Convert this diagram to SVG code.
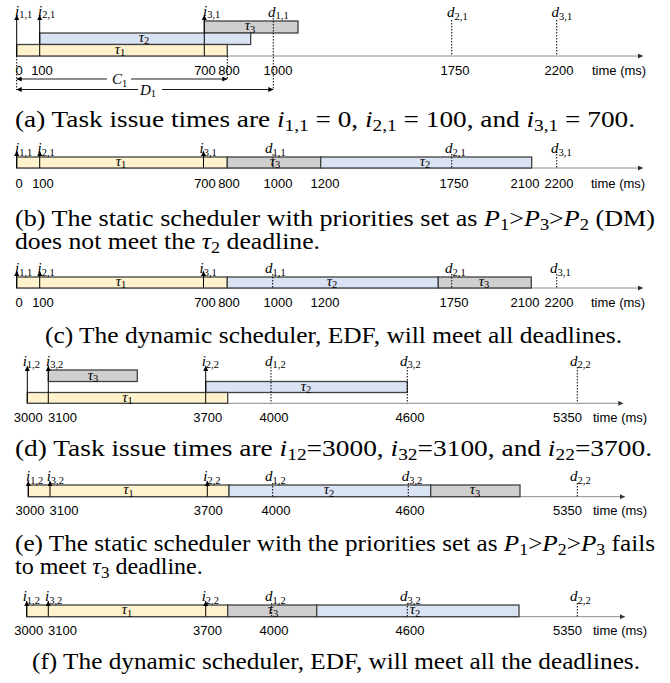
<svg xmlns="http://www.w3.org/2000/svg" width="670" height="683" viewBox="0 0 670 683">
<defs>
<marker id="ah" viewBox="0 0 8 8" refX="8" refY="4" markerWidth="5" markerHeight="5" markerUnits="userSpaceOnUse" orient="auto-start-reverse"><path d="M0,0 L8,4 L0,8 z" fill="#000"/></marker>
<marker id="ax" viewBox="0 0 8 8" refX="8" refY="4" markerWidth="5" markerHeight="5" markerUnits="userSpaceOnUse" orient="auto"><path d="M0,0 L8,4 L0,8 z" fill="#333"/></marker>
</defs>
<style>
.axis{stroke:#8c8c8c;stroke-width:1;marker-end:url(#ax);fill:none}
.bar{stroke:#404040;stroke-width:1.3}
.y{fill:#FFF2CC}.b{fill:#DAE3F3}.g{fill:#D0CECE}
.arr{stroke:#000;stroke-width:1;fill:none;marker-end:url(#ah)}
.dim{stroke:#000;stroke-width:0.9;fill:none}
.ms{marker-start:url(#ah)}.me{marker-end:url(#ah)}
.dl{stroke:#000;stroke-width:1;stroke-dasharray:1.5 1.5;fill:none}
.tk{font-family:"Liberation Sans",Arial,sans-serif;font-size:13px;fill:#000}
.tm{text-anchor:middle}
.lb{font-family:"Liberation Serif","Times New Roman",serif;font-style:italic;font-size:15px;fill:#000}
.sb{font-style:normal;font-size:10.5px}
.tl{font-family:"Liberation Serif","Times New Roman",serif;font-style:italic;font-size:15px;fill:#000;text-anchor:middle}
.cap{font-family:"Liberation Serif","Times New Roman",serif;font-size:24px;fill:#000}
.it{font-style:italic}
.cs{font-size:17px}
</style>

<!-- Panel (a) -->
<g id="panel-a">
<line class="axis" x1="16.7" y1="56" x2="643" y2="56"/>
<g id="a-tau3"><rect class="bar g" x="204.3" y="21" width="93.7" height="12"/><text class="tl" x="250" y="30">τ<tspan class="sb" dy="2.5">3</tspan></text></g>
<g id="a-tau2"><rect class="bar b" x="39.7" y="33" width="211" height="11.5"/><text class="tl" x="144" y="41.5">τ<tspan class="sb" dy="2.5">2</tspan></text></g>
<g id="a-tau1"><rect class="bar y" x="16.7" y="44.5" width="210.6" height="11.5"/><text class="tl" x="120" y="53.5">τ<tspan class="sb" dy="2.5">1</tspan></text></g>
<g id="a-connectors">
<line class="arr" x1="16.7" y1="56" x2="16.7" y2="15"/>
<line class="arr" x1="39.7" y1="56" x2="39.7" y2="15"/>
<line class="arr" x1="204.3" y1="56" x2="204.3" y2="15"/>
<line class="dl" x1="273.3" y1="18" x2="273.3" y2="90"/>
<line class="dl" x1="451.7" y1="20" x2="451.7" y2="56"/>
<line class="dl" x1="556.7" y1="20" x2="556.7" y2="56"/>
<line class="dl" x1="16.7" y1="56" x2="16.7" y2="90"/>
<line class="dl" x1="227.3" y1="56" x2="227.3" y2="80"/>
<line class="dim ms" x1="16.7" y1="79" x2="107" y2="79"/>
<line class="dim me" x1="131" y1="79" x2="227.3" y2="79"/>
<line class="dim ms" x1="16.7" y1="89.5" x2="138" y2="89.5"/>
<line class="dim me" x1="162" y1="89.5" x2="273.3" y2="89.5"/>
</g>
<text class="lb" x="15" y="15.5">i<tspan class="sb" dy="2.5">1,1</tspan></text>
<text class="lb" x="38" y="15.5">i<tspan class="sb" dy="2.5">2,1</tspan></text>
<text class="lb" x="203" y="15.5">i<tspan class="sb" dy="2.5">3,1</tspan></text>
<text class="lb" x="268" y="16.5">d<tspan class="sb" dy="2.5">1,1</tspan></text>
<text class="lb" x="447" y="17">d<tspan class="sb" dy="2.5">2,1</tspan></text>
<text class="lb" x="551.5" y="17">d<tspan class="sb" dy="2.5">3,1</tspan></text>
<text class="lb" x="112" y="84" font-size="16">C<tspan class="sb" dy="2.5">1</tspan></text>
<text class="lb" x="140" y="94.5" font-size="16">D<tspan class="sb" dy="2.5">1</tspan></text>
<g class="tk">
<text class="tm" x="19" y="75">0</text><text class="tm" x="42" y="75">100</text>
<text class="tm" x="205" y="75">700</text><text class="tm" x="229" y="75">800</text>
<text class="tm" x="278" y="75">1000</text><text class="tm" x="455" y="75">1750</text>
<text class="tm" x="559" y="75">2200</text><text x="592" y="75">time (ms)</text>
</g>
</g>
<text id="cap-a" class="cap" x="15" y="127" textLength="620" lengthAdjust="spacingAndGlyphs">(a) Task issue times are <tspan class="it">i</tspan><tspan class="cs" dy="4">1,1</tspan><tspan dy="-4"> = 0, </tspan><tspan class="it">i</tspan><tspan class="cs" dy="4">2,1</tspan><tspan dy="-4"> = 100, and </tspan><tspan class="it">i</tspan><tspan class="cs" dy="4">3,1</tspan><tspan dy="-4"> = 700.</tspan></text>

<!-- Panel (b) -->
<g id="panel-b">
<line class="axis" x1="16.7" y1="168" x2="643" y2="168"/>
<g id="b-tau1"><rect class="bar y" x="16.7" y="157" width="210.6" height="11"/><text class="tl" x="121" y="165.5">τ<tspan class="sb" dy="2.5">1</tspan></text></g>
<g id="b-tau3"><rect class="bar g" x="227.3" y="157" width="93.4" height="11"/><text class="tl" x="275" y="165.5">τ<tspan class="sb" dy="2.5">3</tspan></text></g>
<g id="b-tau2"><rect class="bar b" x="320.7" y="157" width="211" height="11"/><text class="tl" x="425" y="165.5">τ<tspan class="sb" dy="2.5">2</tspan></text></g>
<g id="b-connectors">
<line class="arr" x1="16.7" y1="168" x2="16.7" y2="151"/>
<line class="arr" x1="39.7" y1="168" x2="39.7" y2="151"/>
<line class="arr" x1="203.5" y1="168" x2="203.5" y2="151"/>
<line class="dl" x1="273" y1="154" x2="273" y2="168"/>
<line class="dl" x1="451.7" y1="154" x2="451.7" y2="168"/>
<line class="dl" x1="556.7" y1="154" x2="556.7" y2="168"/>
</g>
<text class="lb" x="15" y="153">i<tspan class="sb" dy="2.5">1,1</tspan></text>
<text class="lb" x="37.5" y="153">i<tspan class="sb" dy="2.5">2,1</tspan></text>
<text class="lb" x="199.5" y="153">i<tspan class="sb" dy="2.5">3,1</tspan></text>
<text class="lb" x="265" y="153">d<tspan class="sb" dy="2.5">1,1</tspan></text>
<text class="lb" x="445" y="153">d<tspan class="sb" dy="2.5">2,1</tspan></text>
<text class="lb" x="551" y="153">d<tspan class="sb" dy="2.5">3,1</tspan></text>
<g class="tk">
<text class="tm" x="19" y="187.5">0</text><text class="tm" x="43" y="187.5">100</text>
<text class="tm" x="205" y="187.5">700</text><text class="tm" x="229" y="187.5">800</text>
<text class="tm" x="278" y="187.5">1000</text><text class="tm" x="325" y="187.5">1200</text>
<text class="tm" x="454" y="187.5">1750</text><text class="tm" x="525" y="187.5">2100</text>
<text class="tm" x="559" y="187.5">2200</text><text x="591" y="187.5">time (ms)</text>
</g>
</g>
<text id="cap-b1" class="cap" x="15" y="226" textLength="640" lengthAdjust="spacingAndGlyphs">(b) The static scheduler with priorities set as <tspan class="it">P</tspan><tspan class="cs" dy="4">1</tspan><tspan dy="-4">&gt;</tspan><tspan class="it">P</tspan><tspan class="cs" dy="4">3</tspan><tspan dy="-4">&gt;</tspan><tspan class="it">P</tspan><tspan class="cs" dy="4">2</tspan><tspan dy="-4"> (DM)</tspan></text>
<text id="cap-b2" class="cap" x="15" y="248.5" textLength="305" lengthAdjust="spacingAndGlyphs">does not meet the <tspan class="it">τ</tspan><tspan class="cs" dy="4">2</tspan><tspan dy="-4"> deadline.</tspan></text>

<!-- Panel (c) -->
<g id="panel-c">
<line class="axis" x1="16.7" y1="288" x2="643" y2="288"/>
<g id="c-tau1"><rect class="bar y" x="16.7" y="277" width="210.6" height="11"/><text class="tl" x="121" y="285.5">τ<tspan class="sb" dy="2.5">1</tspan></text></g>
<g id="c-tau2"><rect class="bar b" x="227.3" y="277" width="211" height="11"/><text class="tl" x="332" y="285.5">τ<tspan class="sb" dy="2.5">2</tspan></text></g>
<g id="c-tau3"><rect class="bar g" x="438.3" y="277" width="93" height="11"/><text class="tl" x="484" y="285.5">τ<tspan class="sb" dy="2.5">3</tspan></text></g>
<g id="c-connectors">
<line class="arr" x1="16.7" y1="288" x2="16.7" y2="271"/>
<line class="arr" x1="39.7" y1="288" x2="39.7" y2="271"/>
<line class="arr" x1="203.5" y1="288" x2="203.5" y2="271"/>
<line class="dl" x1="272.7" y1="274" x2="272.7" y2="288"/>
<line class="dl" x1="451.7" y1="274" x2="451.7" y2="288"/>
<line class="dl" x1="556.7" y1="274" x2="556.7" y2="288"/>
</g>
<text class="lb" x="15" y="273">i<tspan class="sb" dy="2.5">1,1</tspan></text>
<text class="lb" x="37.5" y="273">i<tspan class="sb" dy="2.5">2,1</tspan></text>
<text class="lb" x="199.5" y="273">i<tspan class="sb" dy="2.5">3,1</tspan></text>
<text class="lb" x="265" y="273">d<tspan class="sb" dy="2.5">1,1</tspan></text>
<text class="lb" x="445" y="273">d<tspan class="sb" dy="2.5">2,1</tspan></text>
<text class="lb" x="550" y="273">d<tspan class="sb" dy="2.5">3,1</tspan></text>
<g class="tk">
<text class="tm" x="19" y="307">0</text><text class="tm" x="43" y="307">100</text>
<text class="tm" x="205" y="307">700</text><text class="tm" x="229" y="307">800</text>
<text class="tm" x="278" y="307">1000</text><text class="tm" x="325" y="307">1200</text>
<text class="tm" x="454" y="307">1750</text><text class="tm" x="525" y="307">2100</text>
<text class="tm" x="559" y="307">2200</text><text x="591" y="307">time (ms)</text>
</g>
</g>
<text id="cap-c" class="cap" x="45" y="343" textLength="577" lengthAdjust="spacingAndGlyphs">(c) The dynamic scheduler, EDF, will meet all deadlines.</text>

<!-- Panel (d) -->
<g id="panel-d">
<line class="axis" x1="27.3" y1="403.3" x2="623.3" y2="403.3"/>
<g id="d-tau3"><rect class="bar g" x="48.3" y="370" width="89" height="11.5"/><text class="tl" x="93" y="379.5">τ<tspan class="sb" dy="2.5">3</tspan></text></g>
<g id="d-tau2"><rect class="bar b" x="205.7" y="381.5" width="201.6" height="11"/><text class="tl" x="306" y="390.5">τ<tspan class="sb" dy="2.5">2</tspan></text></g>
<g id="d-tau1"><rect class="bar y" x="27.3" y="392.5" width="200.4" height="10.8"/><text class="tl" x="127.5" y="401.5">τ<tspan class="sb" dy="2.5">1</tspan></text></g>
<g id="d-connectors">
<line class="arr" x1="27.3" y1="403.3" x2="27.3" y2="366"/>
<line class="arr" x1="48.3" y1="403.3" x2="48.3" y2="366"/>
<line class="arr" x1="205.7" y1="403.3" x2="205.7" y2="366"/>
<line class="dl" x1="271" y1="367" x2="271" y2="403.3"/>
<line class="dl" x1="407.3" y1="367" x2="407.3" y2="403.3"/>
<line class="dl" x1="577.3" y1="367" x2="577.3" y2="403.3"/>
</g>
<text class="lb" x="22.7" y="365.5">i<tspan class="sb" dy="2.5">1,2</tspan></text>
<text class="lb" x="46" y="365.5">i<tspan class="sb" dy="2.5">3,2</tspan></text>
<text class="lb" x="201.7" y="365.5">i<tspan class="sb" dy="2.5">2,2</tspan></text>
<text class="lb" x="265" y="365.5">d<tspan class="sb" dy="2.5">1,2</tspan></text>
<text class="lb" x="400" y="365.5">d<tspan class="sb" dy="2.5">3,2</tspan></text>
<text class="lb" x="570" y="365.5">d<tspan class="sb" dy="2.5">2,2</tspan></text>
<g class="tk">
<text class="tm" x="28.3" y="421.5">3000</text><text class="tm" x="62.5" y="421.5">3100</text>
<text class="tm" x="207.7" y="421.5">3700</text><text class="tm" x="274" y="421.5">4000</text>
<text class="tm" x="410" y="421.5">4600</text><text class="tm" x="567.5" y="421.5">5350</text>
<text x="593" y="421.5">time (ms)</text>
</g>
</g>
<text id="cap-d" class="cap" x="15" y="455.5" textLength="637" lengthAdjust="spacingAndGlyphs">(d) Task issue times are <tspan class="it">i</tspan><tspan class="cs" dy="4">12</tspan><tspan dy="-4">=3000, </tspan><tspan class="it">i</tspan><tspan class="cs" dy="4">32</tspan><tspan dy="-4">=3100, and </tspan><tspan class="it">i</tspan><tspan class="cs" dy="4">22</tspan><tspan dy="-4">=3700.</tspan></text>

<!-- Panel (e) -->
<g id="panel-e">
<line class="axis" x1="28.3" y1="496.7" x2="625" y2="496.7"/>
<g id="e-tau1"><rect class="bar y" x="28.3" y="485" width="200.7" height="11.7"/><text class="tl" x="128.5" y="494">τ<tspan class="sb" dy="2.5">1</tspan></text></g>
<g id="e-tau2"><rect class="bar b" x="229" y="485" width="201.7" height="11.7"/><text class="tl" x="329" y="494">τ<tspan class="sb" dy="2.5">2</tspan></text></g>
<g id="e-tau3"><rect class="bar g" x="430.7" y="485" width="89.3" height="11.7"/><text class="tl" x="475" y="494">τ<tspan class="sb" dy="2.5">3</tspan></text></g>
<g id="e-connectors">
<line class="arr" x1="28.3" y1="496.7" x2="28.3" y2="481"/>
<line class="arr" x1="50" y1="496.7" x2="50" y2="481"/>
<line class="arr" x1="207.3" y1="496.7" x2="207.3" y2="481"/>
<line class="dl" x1="272.7" y1="483" x2="272.7" y2="496.7"/>
<line class="dl" x1="408.3" y1="483" x2="408.3" y2="496.7"/>
<line class="dl" x1="577.3" y1="483" x2="577.3" y2="496.7"/>
</g>
<text class="lb" x="26" y="481">i<tspan class="sb" dy="2.5">1,2</tspan></text>
<text class="lb" x="46.7" y="481">i<tspan class="sb" dy="2.5">3,2</tspan></text>
<text class="lb" x="203.3" y="481">i<tspan class="sb" dy="2.5">2,2</tspan></text>
<text class="lb" x="265" y="481">d<tspan class="sb" dy="2.5">1,2</tspan></text>
<text class="lb" x="401.7" y="481">d<tspan class="sb" dy="2.5">3,2</tspan></text>
<text class="lb" x="570" y="481">d<tspan class="sb" dy="2.5">2,2</tspan></text>
<g class="tk">
<text class="tm" x="30" y="515">3000</text><text class="tm" x="64" y="515">3100</text>
<text class="tm" x="208.3" y="515">3700</text><text class="tm" x="276" y="515">4000</text>
<text class="tm" x="410" y="515">4600</text><text class="tm" x="567.5" y="515">5350</text>
<text x="593" y="515">time (ms)</text>
</g>
</g>
<text id="cap-e1" class="cap" x="15" y="551" textLength="640" lengthAdjust="spacingAndGlyphs">(e) The static scheduler with the priorities set as <tspan class="it">P</tspan><tspan class="cs" dy="4">1</tspan><tspan dy="-4">&gt;</tspan><tspan class="it">P</tspan><tspan class="cs" dy="4">2</tspan><tspan dy="-4">&gt;</tspan><tspan class="it">P</tspan><tspan class="cs" dy="4">3</tspan><tspan dy="-4"> fails</tspan></text>
<text id="cap-e2" class="cap" x="15" y="573.5">to meet <tspan class="it">τ</tspan><tspan class="cs" dy="4">3</tspan><tspan dy="-4"> deadline.</tspan></text>

<!-- Panel (f) -->
<g id="panel-f">
<line class="axis" x1="26.7" y1="616.7" x2="625" y2="616.7"/>
<g id="f-tau1"><rect class="bar y" x="26.7" y="605" width="201" height="11.7"/><text class="tl" x="127" y="614">τ<tspan class="sb" dy="2.5">1</tspan></text></g>
<g id="f-tau3"><rect class="bar g" x="227.7" y="605" width="89" height="11.7"/><text class="tl" x="273" y="614">τ<tspan class="sb" dy="2.5">3</tspan></text></g>
<g id="f-tau2"><rect class="bar b" x="316.7" y="605" width="202.3" height="11.7"/><text class="tl" x="415" y="614">τ<tspan class="sb" dy="2.5">2</tspan></text></g>
<g id="f-connectors">
<line class="arr" x1="26.7" y1="616.7" x2="26.7" y2="601"/>
<line class="arr" x1="48.3" y1="616.7" x2="48.3" y2="601"/>
<line class="arr" x1="205.7" y1="616.7" x2="205.7" y2="601"/>
<line class="dl" x1="271.7" y1="603" x2="271.7" y2="616.7"/>
<line class="dl" x1="407.3" y1="603" x2="407.3" y2="616.7"/>
<line class="dl" x1="577.3" y1="603" x2="577.3" y2="616.7"/>
</g>
<text class="lb" x="22.7" y="601">i<tspan class="sb" dy="2.5">1,2</tspan></text>
<text class="lb" x="45" y="601">i<tspan class="sb" dy="2.5">3,2</tspan></text>
<text class="lb" x="201.7" y="601">i<tspan class="sb" dy="2.5">2,2</tspan></text>
<text class="lb" x="265" y="601">d<tspan class="sb" dy="2.5">1,2</tspan></text>
<text class="lb" x="400" y="601">d<tspan class="sb" dy="2.5">3,2</tspan></text>
<text class="lb" x="570" y="601">d<tspan class="sb" dy="2.5">2,2</tspan></text>
<g class="tk">
<text class="tm" x="28.8" y="635">3000</text><text class="tm" x="62.5" y="635">3100</text>
<text class="tm" x="207.5" y="635">3700</text><text class="tm" x="274" y="635">4000</text>
<text class="tm" x="410" y="635">4600</text><text class="tm" x="567.5" y="635">5350</text>
<text x="593" y="635">time (ms)</text>
</g>
</g>
<text id="cap-f" class="cap" x="32" y="669" textLength="608" lengthAdjust="spacingAndGlyphs">(f) The dynamic scheduler, EDF, will meet all the deadlines.</text>
</svg>
